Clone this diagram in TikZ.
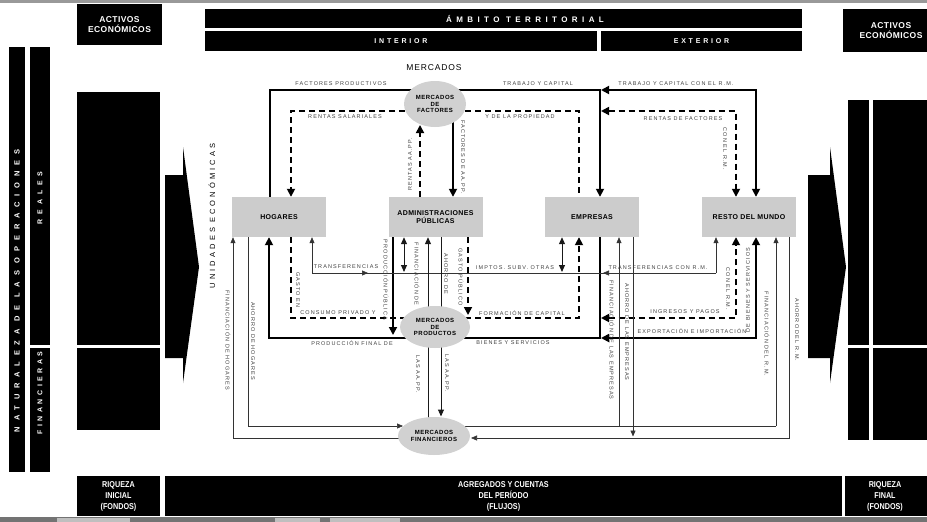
\documentclass[tikz,border=0pt]{standalone}
\usepackage{fontspec}
\setmainfont{Liberation Sans}
\usetikzlibrary{arrows.meta,shapes.geometric}
\pgfdeclarelayer{bg}
\pgfsetlayers{bg,main}
\begin{document}
\begin{tikzpicture}[x=1pt,y=-1pt,
  lbl/.style={font=\fontsize{5.5}{6}\selectfont\addfontfeatures{LetterSpace=20}, text=black!75, inner sep=0pt},
  vlbl/.style={lbl, rotate=-90},
  ulbl/.style={lbl, rotate=90},
  hdr/.style={rectangle, fill=black, text=white, inner sep=0pt, align=center},
  hfont/.style={font=\fontsize{8.5}{9.5}\selectfont\bfseries\addfontfeatures{LetterSpace=5}},
  bfont/.style={font=\fontsize{8.5}{11}\selectfont\bfseries\addfontfeatures{FakeStretch=0.85}},
  unit/.style={rectangle, fill=black!20, minimum width=94pt, minimum height=40pt, inner sep=1pt, font=\fontsize{7}{8.5}\selectfont\bfseries\addfontfeatures{LetterSpace=5}, align=center},
  mkt/.style={ellipse, fill=black!18, inner sep=0pt, font=\fontsize{6}{6.8}\selectfont\bfseries\addfontfeatures{LetterSpace=8}, align=center},
  thk/.style={line width=1.7pt, >={Triangle[length=8pt,width=8pt]}},
  dsh/.style={line width=1.7pt, dash pattern=on 6pt off 4pt, >={Triangle[length=8pt,width=8pt]}},
  thn/.style={line width=0.6pt, draw=black!80, >={Triangle[length=6pt,width=5pt]}},
  med/.style={line width=1pt, draw=black!90, >={Triangle[length=7pt,width=6pt]}},
]
\useasboundingbox (0,0) rectangle (927,522);
\clip (0,0) rectangle (927,522);
% frame strips
\fill[black!40] (0,0) rectangle (927,2.5);
\fill[black!55] (0,517) rectangle (927,522);
\fill[black!25] (57,517.5) rectangle (130,522);
\fill[black!25] (275,517.5) rectangle (320,522);
\fill[black!25] (330,517.5) rectangle (400,522);

% ---------- header ----------
\node[hdr, hfont, minimum width=85pt, minimum height=41pt] (act1) at (119.5,24.5) {ACTIVOS\\ECONÓMICOS};
\node[hdr, minimum width=597pt, minimum height=19pt] (amb) at (503.5,18.5) {};
\node[text=white, inner sep=0pt, font=\fontsize{8}{9}\selectfont\bfseries\addfontfeatures{LetterSpace=55}] (ambt) at (525,18.5) {ÁMBITO TERRITORIAL};
\node[hdr, minimum width=392pt, minimum height=20pt, font=\fontsize{7}{8}\selectfont\bfseries\addfontfeatures{LetterSpace=40}] (int) at (401,41) {INTERIOR};
\node[hdr, minimum width=201pt, minimum height=20pt, font=\fontsize{7}{8}\selectfont\bfseries\addfontfeatures{LetterSpace=40}] (ext) at (701.5,41) {EXTERIOR};
\node[hdr, minimum width=114pt, minimum height=43pt] (act2) at (900,30.5) {};
\node[text=white, inner sep=0pt, align=center, hfont] (act2t) at (891,30.5) {ACTIVOS\\ECONÓMICOS};

% ---------- left side ----------
\node[hdr, minimum width=16pt, minimum height=425pt] (nat) at (17,259.5) {};
\node[text=white, inner sep=0pt, rotate=90, font=\fontsize{7.5}{8}\selectfont\bfseries\addfontfeatures{LetterSpace=77}] (natt) at (17,291) {NATURALEZA DE LAS OPERACIONES};
\node[hdr, minimum width=20pt, minimum height=298pt] (rea) at (40,196) {};
\node[text=white, inner sep=0pt, rotate=90, font=\fontsize{7}{8}\selectfont\bfseries\addfontfeatures{LetterSpace=70}] (reat) at (40,198) {REALES};
\node[hdr, minimum width=20pt, minimum height=124pt] (fin) at (40,410) {};
\node[text=white, inner sep=0pt, rotate=90, font=\fontsize{7}{8}\selectfont\bfseries\addfontfeatures{LetterSpace=50}] (fint) at (40,393) {FINANCIERAS};
\node[hdr, minimum width=83pt, minimum height=253pt] (bl1) at (118.5,218.5) {};
\node[hdr, minimum width=83pt, minimum height=82pt] (bl2) at (118.5,389) {};
\fill (165,175) -- (183,175) -- (183,147) -- (199,267) -- (183,383) -- (183,358) -- (165,358) -- cycle;

% ---------- right side ----------
\fill (808,175) -- (830,175) -- (830,147) -- (846,267) -- (830,383) -- (830,358) -- (808,358) -- cycle;
\node[hdr, minimum width=21pt, minimum height=245pt] (br1) at (858.5,222.5) {};
\node[hdr, minimum width=21pt, minimum height=92pt] (br2) at (858.5,394) {};
\node[hdr, minimum width=60pt, minimum height=245pt] (br3) at (903,222.5) {};
\node[hdr, minimum width=60pt, minimum height=92pt] (br4) at (903,394) {};

% ---------- bottom ----------
\node[hdr, bfont, minimum width=83pt, minimum height=40pt] (riq1) at (118.5,496) {RIQUEZA\\INICIAL\\(FONDOS)};
\node[hdr, bfont, minimum width=677pt, minimum height=40pt] (agr) at (503.5,496) {AGREGADOS Y CUENTAS\\DEL PERÍODO\\(FLUJOS)};
\node[hdr, minimum width=90pt, minimum height=40pt] (riq2) at (890,496) {};
\node[text=white, inner sep=0pt, align=center, bfont] (riq2t) at (885,496) {RIQUEZA\\FINAL\\(FONDOS)};

% ---------- titles ----------
\node[inner sep=0pt, font=\fontsize{8.5}{9}\selectfont\addfontfeatures{LetterSpace=10}] (merc) at (434,68) {MERCADOS};
\node[inner sep=0pt, rotate=90, font=\fontsize{7.5}{8}\selectfont\addfontfeatures{LetterSpace=41}] (uni) at (212,216) {UNIDADES ECONÓMICAS};

% ---------- units and markets ----------
\node[unit] (hog) at (279,217) {HOGARES};
\node[unit] (adm) at (435.5,217) {ADMINISTRACIONES\\PÚBLICAS};
\node[unit] (emp) at (592,217) {EMPRESAS};
\node[unit] (rdm) at (749,217) {RESTO DEL MUNDO};
\node[mkt, minimum width=62pt, minimum height=46pt] (mf) at (435,104) {MERCADOS\\DE\\FACTORES};
\node[mkt, minimum width=70pt, minimum height=42pt] (mp) at (435,327) {MERCADOS\\DE\\PRODUCTOS};
\node[mkt, minimum width=72pt, minimum height=38pt] (mfi) at (434,436) {MERCADOS\\FINANCIEROS};

% ---------- coordinates ----------
\coordinate (fp) at (270,90);
\coordinate (tc) at (600,90);
\coordinate (tr) at (756,90);
\coordinate (rs) at (291,111);
\coordinate (rp) at (579,111);
\coordinate (rf) at (736,111);
\coordinate (ra) at (420,125);
\coordinate (fa) at (453,115);
\coordinate (pf) at (269,338);
\coordinate (pe) at (600,338);
\coordinate (ex) at (756,338);
\coordinate (pp) at (393,335);
\coordinate (gc) at (291,318);
\coordinate (fc) at (579,318);
\coordinate (ip) at (736,318);
\coordinate (gp) at (468,315);
\coordinate (t1) at (312,273);
\coordinate (t2) at (716,273);
\coordinate (ta) at (368,273);
\coordinate (tb) at (603,273);
\coordinate (ad) at (404,272);
\coordinate (ed) at (562,272);
\coordinate (fh) at (233,438);
\coordinate (ah) at (248,426);
\coordinate (ahT) at (403,426);
\coordinate (fe) at (619,426);
\coordinate (fr) at (776,426);
\coordinate (ae) at (633,436.5);
\coordinate (ar) at (789,438);
\coordinate (arT) at (471,438);
\coordinate (fap) at (428,420);
\coordinate (aap) at (441,416.5);

\begin{pgfonlayer}{bg}
% factor markets
\draw[thk] (hog.north -| fp) -- (fp) -- (fp -| mf.center);
\draw[thk,->] (tc -| mf.center) -- (tc) -- (emp.north -| tc);
\draw[thk,<->,shorten <=1pt] (tc) -- (tr) -- (rdm.north -| tr);
\draw[dsh,->] (rs -| mf.center) -- (rs) -- (hog.north -| rs);
\draw[dsh] (rp -| mf.center) -- (rp) -- (emp.north -| rp);
\draw[dsh,<->,shorten <=1pt] (rf -| tc) -- (rf) -- (rdm.north -| rf);
\draw[dsh,->] (adm.north -| ra) -- (ra);
\draw[thk,->] (fa) -- (adm.north -| fa);
% product markets
\draw[thk,->] (emp.south -| pe) -- (pe) -- (pf) -- (hog.south -| pf);
\draw[thk,<->,shorten <=1pt] (pe) -- (ex) -- (rdm.south -| ex);
\draw[thk,->] (adm.south -| pp) -- (pp);
\draw[dsh] (hog.south -| gc) -- (gc) -- (gc -| mp.center);
\draw[dsh,->] (fc -| mp.center) -- (fc) -- (emp.south -| fc);
\draw[dsh,<->,shorten <=1pt] (ip -| pe) -- (ip) -- (rdm.south -| ip);
\draw[dsh,->] (adm.south -| gp) -- (gp);
% transfers
\draw[thn] (t1) -- (t2);
\draw[thn,->] (t1) -- (hog.south -| t1);
\draw[thn,->] (t1) -- (ta);
\draw[thn,->] (t2) -- (rdm.south -| t2);
\draw[thn,->] (t2) -- (tb);
\draw[med,<->] (adm.south -| ad) -- (ad);
\draw[med,<->] (emp.south -| ed) -- (ed);
% financial markets
\draw[thn,->] (mfi.center |- fh) -- (fh) -- (hog.south -| fh);
\draw[thn,->] (hog.south -| ah) -- (ah) -- (ahT);
\draw[thn] (mfi.center |- fr) -- (fr);
\draw[thn,->] (fr) -- (rdm.south -| fr);
\draw[thn,->] (fe) -- (emp.south -| fe);
\draw[thn,->] (emp.south -| ae) -- (ae);
\draw[thn,->] (rdm.south -| ar) -- (ar) -- (arT);
\draw[med,->] (fap) -- (adm.south -| fap);
\draw[med,->] (adm.south -| aap) -- (aap);
\end{pgfonlayer}

% ---------- labels ----------
\node[lbl] (l1) at (341,84) {FACTORES PRODUCTIVOS};
\node[lbl] (l2) at (538,84) {TRABAJO Y CAPITAL};
\node[lbl] (l3) at (676,84) {TRABAJO Y CAPITAL CON EL R.M.};
\node[lbl] (l4) at (345,117) {RENTAS SALARIALES};
\node[lbl] (l5) at (520,117) {Y DE LA PROPIEDAD};
\node[lbl] (l6) at (683,119) {RENTAS DE FACTORES};
\node[vlbl] (l7) at (725,149) {CON EL R.M.};
\node[ulbl] (l8) at (410,164) {RENTAS AA.PP.};
\node[vlbl] (l9) at (463,157) {FACTORES DE AA.PP.};
\node[lbl] (l10) at (346,267) {TRANSFERENCIAS};
\node[lbl] (l11) at (515,268) {IMPTOS. SUBV. OTRAS};
\node[lbl] (l12) at (658,268) {TRANSFERENCIAS CON R.M.};
\node[vlbl] (l13) at (386,280) {PRODUCCIÓN PÚBLICA};
\node[vlbl] (l14) at (417,274) {FINANCIACIÓN DE};
\node[vlbl] (l15) at (446,274) {AHORRO DE};
\node[vlbl] (l16) at (461,277) {GASTO PÚBLICO};
\node[vlbl] (l17) at (418,374) {LAS AA.PP.};
\node[vlbl] (l18) at (447,373) {LAS AA.PP.};
\node[vlbl] (l19) at (298,290) {GASTO EN};
\node[lbl] (l20) at (338,313) {CONSUMO PRIVADO Y};
\node[lbl] (l21) at (522,313) {FORMACIÓN DE CAPITAL};
\node[lbl] (l22) at (352,343) {PRODUCCIÓN FINAL DE};
\node[lbl] (l23) at (513,343) {BIENES Y SERVICIOS};
\node[lbl] (l24) at (685,312) {INGRESOS Y PAGOS};
\node[vlbl] (l25) at (728,289) {CON EL R.M.};
\node[lbl] (l26) at (692,331) {EXPORTACIÓN E IMPORTACIÓN};
\node[ulbl] (l27) at (748,290) {DE BIENES Y SERVICIOS};
\node[vlbl] (l28) at (612,340) {FINANCIACIÓN DE LAS EMPRESAS};
\node[vlbl] (l29) at (627,332) {AHORRO DE LAS EMPRESAS};
\node[vlbl] (l30) at (767,334) {FINANCIACIÓN DEL R.M.};
\node[vlbl] (l31) at (797,330) {AHORRO DEL R.M.};
\node[vlbl] (l32) at (228,340) {FINANCIACIÓN DE HOGARES};
\node[vlbl] (l33) at (253,341) {AHORRO DE HOGARES};
\end{tikzpicture}
\end{document}
